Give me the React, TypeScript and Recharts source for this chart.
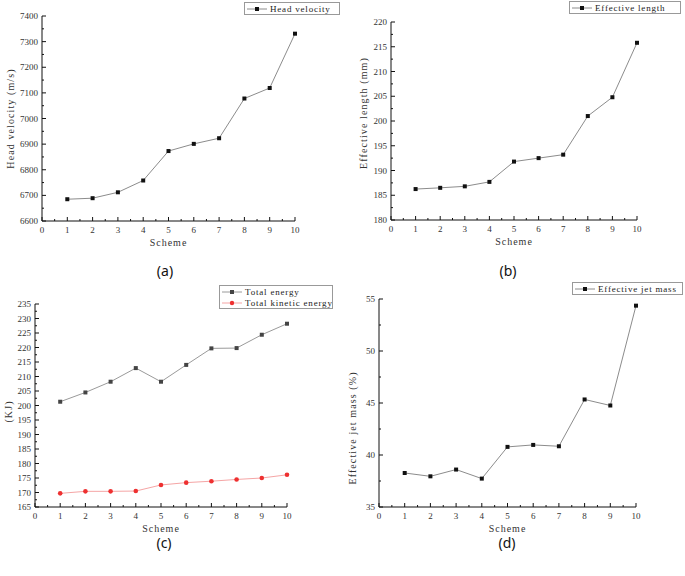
import { Label, Legend, Line, LineChart, XAxis, YAxis } from 'recharts';

const schemes = [1, 2, 3, 4, 5, 6, 7, 8, 9, 10];
const headVelocity = [6685, 6689, 6712, 6758, 6873, 6901, 6923, 7078, 7119, 7331];
const effectiveLength = [186.25, 186.5, 186.8, 187.7, 191.8, 192.5, 193.2, 201.0, 204.8, 215.8];
const totalEnergy = [201.3, 204.5, 208.2, 212.9, 208.2, 214.0, 219.7, 219.8, 224.4, 228.2];
const totalKinetic = [169.7, 170.4, 170.4, 170.5, 172.6, 173.4, 173.9, 174.5, 175.0, 176.1];
const jetMass = [38.27, 37.95, 38.6, 37.73, 40.78, 40.97, 40.84, 45.34, 44.76, 54.36];

const xMajor = [0, 1, 2, 3, 4, 5, 6, 7, 8, 9, 10];
const yMajorA = [6600, 6700, 6800, 6900, 7000, 7100, 7200, 7300, 7400];
const yMajorB = [180, 185, 190, 195, 200, 205, 210, 215, 220];
const yMajorC = [165, 170, 175, 180, 185, 190, 195, 200, 205, 210, 215, 220, 225, 230, 235];
const yMajorD = [35, 40, 45, 50, 55];

const SERIF = '"Liberation Serif", "DejaVu Serif", serif';
const M = 4; // tick margin used by custom ticks

const withMinor = (major: number[]) => {
  const out: number[] = [];
  major.forEach((v, i) => {
    out.push(v);
    if (i < major.length - 1) out.push((v + major[i + 1]) / 2);
  });
  return out;
};

const XTick = (props: any) => {
  const { x, y, payload } = props;
  const v = payload.value;
  const major = xMajor.includes(v);
  const axisY = y - M;
  return (
    <g>
      <line x1={x} x2={x} y1={axisY} y2={axisY - (major ? 4 : 2)} stroke="#111" />
      {major && (
        <text x={x} y={axisY + 12} textAnchor="middle" fontSize={9} fontFamily={SERIF} fill="#333">
          {v}
        </text>
      )}
    </g>
  );
};

const makeYTick = (major: number[]) => (props: any) => {
  const { x, y, payload } = props;
  const v = payload.value;
  const isMajor = major.includes(v);
  const axisX = x + M;
  return (
    <g>
      <line x1={axisX} x2={axisX + (isMajor ? 4 : 2)} y1={y} y2={y} stroke="#111" />
      {isMajor && (
        <text x={axisX - 4} y={y + 3} textAnchor="end" fontSize={9} fontFamily={SERIF} fill="#333">
          {v}
        </text>
      )}
    </g>
  );
};

const squareDot = (color: string) => (p: any) => (
  <rect key={`d${p.index}`} x={p.cx - 2} y={p.cy - 2} width={4} height={4} fill={color} />
);
const circleDot = (color: string) => (p: any) => (
  <circle key={`d${p.index}`} cx={p.cx} cy={p.cy} r={2.3} fill={color} />
);

type Series = {
  key: string;
  name: string;
  values: number[];
  line: string;
  marker: string;
  shape: 'square' | 'circle';
};

type PanelProps = {
  left: number;
  top: number;
  width: number;
  height: number;
  margin: { top: number; right: number };
  yWidth: number;
  xHeight: number;
  domain: [number, number];
  yMajor: number[];
  yLabel: string;
  yLabelX: number;
  yLabelDy: number;
  series: Series[];
  legend: { left: number; top: number; width: number };
};

function Panel(p: PanelProps) {
  const data = schemes.map((s, i) => {
    const row: Record<string, number> = { scheme: s };
    p.series.forEach((se) => (row[se.key] = se.values[i]));
    return row;
  });

  const legendContent = () => (
    <div
      style={{
        border: '1px solid #999',
        background: '#fff',
        width: p.legend.width,
        boxSizing: 'border-box',
        padding: '0 2px',
        fontFamily: SERIF,
        fontSize: 9,
        letterSpacing: 0.8,
        color: '#222',
        whiteSpace: 'nowrap',
        overflow: 'hidden',
      }}
    >
      {p.series.map((se) => (
        <div key={se.key} style={{ display: 'flex', alignItems: 'center', height: 11 }}>
          <svg width={20} height={8} style={{ flex: 'none' }}>
            <line x1={0} x2={20} y1={4} y2={4} stroke={se.line} />
            {se.shape === 'square' ? (
              <rect x={8} y={2} width={4} height={4} fill={se.marker} />
            ) : (
              <circle cx={10} cy={4} r={2.2} fill={se.marker} />
            )}
          </svg>
          <span style={{ marginLeft: 3 }}>{se.name}</span>
        </div>
      ))}
    </div>
  );

  return (
    <div style={{ position: 'absolute', left: p.left, top: p.top }}>
      <LineChart
        width={p.width}
        height={p.height}
        data={data}
        margin={{ top: p.margin.top, right: p.margin.right, left: 0, bottom: 0 }}
      >
        <XAxis
          dataKey="scheme"
          type="number"
          domain={[0, 10]}
          ticks={withMinor(xMajor)}
          interval={0}
          tickSize={0}
          tickMargin={M}
          tick={XTick}
          height={p.xHeight}
          axisLine={{ stroke: '#111' }}
        >
          <Label
            content={({ viewBox }: any) => (
              <text
                x={viewBox.x + viewBox.width / 2}
                y={viewBox.y + 25}
                textAnchor="middle"
                fontSize={10}
                fontFamily={SERIF}
                letterSpacing={1}
                fill="#333"
              >
                Scheme
              </text>
            )}
          />
        </XAxis>
        <YAxis
          type="number"
          domain={p.domain}
          ticks={withMinor(p.yMajor)}
          interval={0}
          allowDataOverflow
          tickSize={0}
          tickMargin={M}
          tick={makeYTick(p.yMajor)}
          width={p.yWidth}
          axisLine={{ stroke: '#111' }}
        >
          <Label
            content={({ viewBox }: any) => {
              const cy = viewBox.y + viewBox.height / 2 + p.yLabelDy;
              return (
                <text
                  x={p.yLabelX}
                  y={cy}
                  transform={`rotate(-90, ${p.yLabelX}, ${cy})`}
                  textAnchor="middle"
                  dominantBaseline="central"
                  fontSize={10}
                  fontFamily={SERIF}
                  letterSpacing={1.1}
                  fill="#333"
                >
                  {p.yLabel}
                </text>
              );
            }}
          />
        </YAxis>
        <Legend
          layout="horizontal"
          verticalAlign="middle"
          align="center"
          content={legendContent}
          wrapperStyle={{ left: p.legend.left, top: p.legend.top, width: p.legend.width }}
        />
        {p.series.map((se) => (
          <Line
            key={se.key}
            dataKey={se.key}
            name={se.name}
            type="linear"
            stroke={se.line}
            strokeWidth={1}
            dot={se.shape === 'square' ? squareDot(se.marker) : circleDot(se.marker)}
            activeDot={false}
            isAnimationActive={false}
          />
        ))}
      </LineChart>
    </div>
  );
}

const caption = (text: string, x: number, y: number) => (
  <div
    style={{
      position: 'absolute',
      left: x - 20,
      top: y - 8,
      width: 40,
      textAlign: 'center',
      fontFamily: '"Noto Sans", sans-serif',
      fontSize: 14,
      lineHeight: '16px',
      color: '#111',
    }}
  >
    {text}
  </div>
);

export default function App() {
  return (
    <div style={{ position: 'absolute', left: 0, top: 0, width: 685, height: 576, background: '#fff' }}>
      <Panel
        left={0}
        top={0}
        width={345}
        height={250}
        margin={{ top: 16, right: 50 }}
        yWidth={42}
        xHeight={29}
        domain={[6600, 7400]}
        yMajor={yMajorA}
        yLabel="Head velocity (m/s)"
        yLabelX={10}
        yLabelDy={0}
        series={[
          { key: 'hv', name: 'Head velocity', values: headVelocity, line: '#8c8c8c', marker: '#111', shape: 'square' },
        ]}
        legend={{ left: 244, top: 2, width: 96 }}
      />
      <Panel
        left={340}
        top={0}
        width={345}
        height={250}
        margin={{ top: 22, right: 48 }}
        yWidth={51}
        xHeight={30}
        domain={[180, 220]}
        yMajor={yMajorB}
        yLabel="Effective length (mm)"
        yLabelX={23}
        yLabelDy={-8}
        series={[
          { key: 'el', name: 'Effective length', values: effectiveLength, line: '#8c8c8c', marker: '#111', shape: 'square' },
        ]}
        legend={{ left: 229, top: 1, width: 112 }}
      />
      <Panel
        left={0}
        top={250}
        width={345}
        height={300}
        margin={{ top: 54, right: 58 }}
        yWidth={35}
        xHeight={43}
        domain={[165, 235]}
        yMajor={yMajorC}
        yLabel="(KJ)"
        yLabelX={8}
        yLabelDy={6}
        series={[
          { key: 'te', name: 'Total energy', values: totalEnergy, line: '#9a9a9a', marker: '#444', shape: 'square' },
          { key: 'tk', name: 'Total kinetic energy', values: totalKinetic, line: '#f5a5a5', marker: '#ee3030', shape: 'circle' },
        ]}
        legend={{ left: 219, top: 35, width: 114 }}
      />
      <Panel
        left={340}
        top={250}
        width={345}
        height={300}
        margin={{ top: 49, right: 49 }}
        yWidth={39}
        xHeight={43}
        domain={[35, 55]}
        yMajor={yMajorD}
        yLabel="Effective jet mass (%)"
        yLabelX={12}
        yLabelDy={25}
        series={[
          { key: 'jm', name: 'Effective jet mass', values: jetMass, line: '#8c8c8c', marker: '#111', shape: 'square' },
        ]}
        legend={{ left: 232, top: 32, width: 111 }}
      />
      {caption('(a)', 165, 271)}
      {caption('(b)', 508, 271)}
      {caption('(c)', 164, 543)}
      {caption('(d)', 507, 543)}
    </div>
  );
}
